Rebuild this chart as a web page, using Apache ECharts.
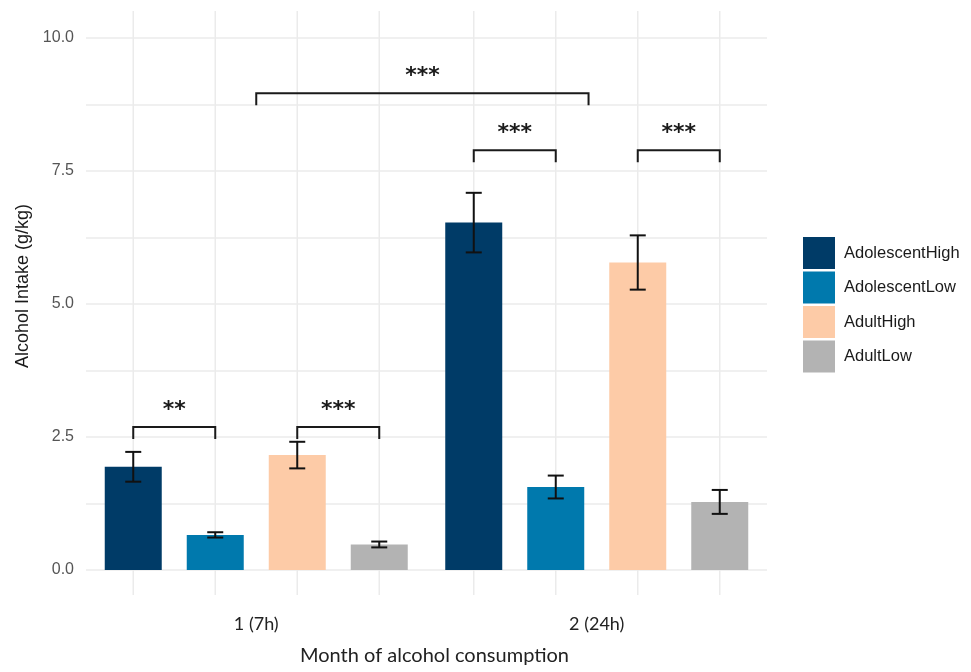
<!DOCTYPE html>
<html>
<head>
<meta charset="utf-8">
<script src="https://cdn.jsdelivr.net/npm/echarts@6/dist/echarts.min.js"></script>
<style>
  html, body { margin: 0; padding: 0; background: #ffffff; }
  #chart { width: 971px; height: 672px; }
</style>
</head>
<body>
<div id="chart"></div>
<script>
// Months of alcohol access and the four age/preference groups
const categories = ['1 (7h)', '2 (24h)'];
const groupNames = ['AdolescentHigh', 'AdolescentLow', 'AdultHigh', 'AdultLow'];

// Mean intake (g/kg) per month
const adolescentHigh = [1.94, 6.53];
const adolescentLow = [0.66, 1.56];
const adultHigh = [2.16, 5.78];
const adultLow = [0.48, 1.28];

// Standard error per month
const adolescentHighSE = [0.28, 0.56];
const adolescentLowSE = [0.05, 0.215];
const adultHighSE = [0.25, 0.51];
const adultLowSE = [0.055, 0.225];

// Significance annotations: [month, group slot] at each end, bracket height, label
const comparisons = [
  { from: [0, 0], to: [0, 1], y: 2.69, label: '**' },
  { from: [0, 2], to: [0, 3], y: 2.69, label: '***' },
  { from: [1, 0], to: [1, 1], y: 7.89, label: '***' },
  { from: [1, 2], to: [1, 3], y: 7.89, label: '***' },
  { from: [0, 1.5], to: [1, 1.4], y: 8.96, label: '***' }
];

const yTicks = [0, 2.5, 5, 7.5, 10];

const means = [adolescentHigh, adolescentLow, adultHigh, adultLow];
const errors = [adolescentHighSE, adolescentLowSE, adultHighSE, adultLowSE];
const colors = ['#003B67', '#0079AD', '#FDCBA7', '#B3B3B3'];

const BAR_W = 57;     // bar width in px
const SLOT = 82;      // distance between neighbouring bar centres
const CAP = 8;        // half-width of error bar caps
const DROP = 12;      // bracket leg length
const GRID_COLOR = '#EBEBEB';
const SANS = 'Liberation Sans, Arial, sans-serif';

const chart = echarts.init(document.getElementById('chart'), null, { renderer: 'canvas' });

// x pixel of a bar slot within a month band
function slotX(api, month, slot) {
  return api.coord([month, 0])[0] + (slot - 1.5) * SLOT;
}

const barSeries = groupNames.map((name, s) => ({
  name: name,
  type: 'bar',
  data: means[s],
  barWidth: BAR_W,
  barGap: ((SLOT - BAR_W) / BAR_W * 100).toFixed(2) + '%',
  itemStyle: { color: colors[s] },
  z: 2
}));

// vertical guide lines through each bar centre
const guideData = [];
categories.forEach((c, m) => groupNames.forEach((g, s) => guideData.push([m, s])));

const guideSeries = {
  type: 'custom',
  clip: false,
  silent: true,
  z: 1,
  data: guideData,
  encode: { x: 0 },
  renderItem: function (params, api) {
    const x = slotX(api, api.value(0), api.value(1));
    const yTop = api.coord([0, 10])[1] - 27;
    const yBot = api.coord([0, 0])[1] + 25;
    return {
      type: 'line',
      shape: { x1: x, y1: yTop, x2: x, y2: yBot },
      style: { stroke: GRID_COLOR, lineWidth: 1.5 }
    };
  }
};

const errData = [];
means.forEach((arr, s) => arr.forEach((v, m) => {
  errData.push([m, s, v - errors[s][m], v + errors[s][m]]);
}));

const errorSeries = {
  type: 'custom',
  silent: true,
  clip: false,
  z: 3,
  data: errData,
  encode: { x: 0, y: [2, 3] },
  renderItem: function (params, api) {
    const x = slotX(api, api.value(0), api.value(1));
    const yLo = api.coord([0, api.value(2)])[1];
    const yHi = api.coord([0, api.value(3)])[1];
    const st = { stroke: '#111111', lineWidth: 2, fill: null };
    return {
      type: 'group',
      children: [
        { type: 'line', shape: { x1: x, y1: yLo, x2: x, y2: yHi }, style: st },
        { type: 'line', shape: { x1: x - CAP, y1: yHi, x2: x + CAP, y2: yHi }, style: st },
        { type: 'line', shape: { x1: x - CAP, y1: yLo, x2: x + CAP, y2: yLo }, style: st }
      ]
    };
  }
};

const bracketSeries = {
  type: 'custom',
  silent: true,
  clip: false,
  z: 4,
  data: comparisons.map(c => [c.from[0], c.from[1], c.to[0], c.to[1], c.y]),
  encode: { x: 0, y: 4 },
  renderItem: function (params, api) {
    const xa = slotX(api, api.value(0), api.value(1));
    const xb = slotX(api, api.value(2), api.value(3));
    const y = api.coord([0, api.value(4)])[1];
    return {
      type: 'group',
      children: [
        {
          type: 'polyline',
          shape: { points: [[xa, y + DROP], [xa, y], [xb, y], [xb, y + DROP]] },
          style: { stroke: '#1a1a1a', lineWidth: 2, fill: null }
        },
        {
          type: 'text',
          style: {
            x: (xa + xb) / 2,
            y: y - 6,
            text: comparisons[params.dataIndex].label,
            fill: '#1a1a1a',
            font: 'bold 22px DejaVu Sans',
            align: 'center',
            verticalAlign: 'bottom'
          }
        }
      ]
    };
  }
};

const option = {
  animation: false,
  backgroundColor: '#ffffff',
  grid: { left: 86, right: 204, top: 38, bottom: 102, containLabel: false },
  legend: {
    data: groupNames,
    orient: 'vertical',
    left: 803,
    top: 237,
    padding: 0,
    itemWidth: 32,
    itemHeight: 32,
    itemGap: 2.5,
    icon: 'rect',
    textStyle: {
      fontFamily: SANS,
      fontSize: 16.5,
      color: '#1a1a1a',
      padding: [0, 0, 0, 4]
    }
  },
  xAxis: {
    type: 'category',
    data: categories,
    axisLine: { show: false },
    axisTick: { show: false },
    splitLine: { show: false },
    axisLabel: {
      margin: 45,
      fontFamily: 'Lato, sans-serif',
      fontSize: 18,
      color: '#222222'
    },
    name: 'Month of alcohol consumption',
    nameLocation: 'middle',
    nameGap: 76,
    nameTextStyle: {
      fontFamily: 'Lato, sans-serif',
      fontSize: 20,
      color: '#222222',
      padding: [0, 0, 0, 16]
    }
  },
  yAxis: {
    type: 'value',
    min: yTicks[0],
    max: yTicks[yTicks.length - 1],
    interval: yTicks[1] - yTicks[0],
    axisLine: { show: false },
    axisTick: { show: false },
    axisLabel: {
      margin: 12,
      fontFamily: SANS,
      fontSize: 16,
      color: '#555555',
      formatter: v => v.toFixed(1)
    },
    splitLine: { lineStyle: { color: GRID_COLOR, width: 1.5 } },
    minorTick: { show: false, splitNumber: 2 },
    minorSplitLine: { show: true, lineStyle: { color: GRID_COLOR, width: 1.5 } }
  },
  graphic: [
    {
      type: 'text',
      x: 23,
      y: 286,
      rotation: Math.PI / 2,
      style: {
        text: 'Alcohol Intake (g/kg)',
        font: '18px Liberation Sans, Arial, sans-serif',
        fill: '#1a1a1a',
        align: 'center',
        verticalAlign: 'middle'
      }
    }
  ],
  series: [guideSeries].concat(barSeries, [errorSeries, bracketSeries])
};

chart.setOption(option);
</script>
</body>
</html>
